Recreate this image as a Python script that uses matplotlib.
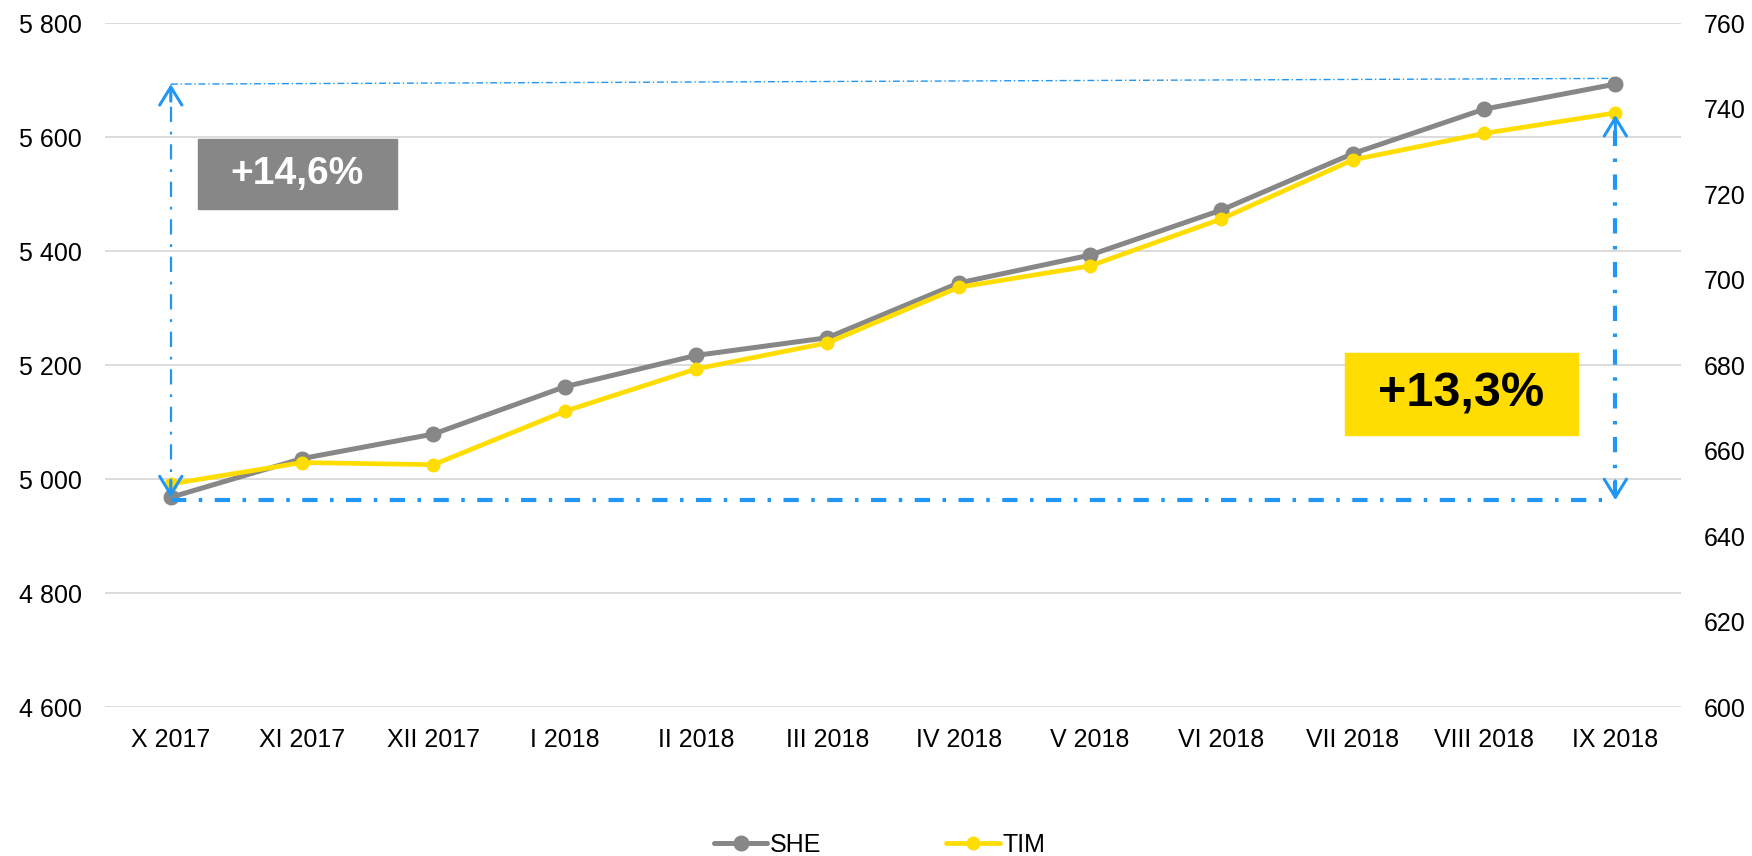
import matplotlib
matplotlib.use("Agg")
import matplotlib.pyplot as plt
from matplotlib.ticker import FuncFormatter, MultipleLocator

# data
months = ["X 2017", "XI 2017", "XII 2017", "I 2018", "II 2018", "III 2018",
          "IV 2018", "V 2018", "VI 2018", "VII 2018", "VIII 2018", "IX 2018"]
she = [4968, 5036, 5079, 5162, 5217, 5248, 5344, 5393, 5472, 5571, 5649, 5693]
tim = [652.2, 657.2, 656.7, 669.2, 679.1, 685.2, 698.2, 703.2, 714.2, 728.0, 734.2, 739.0]
she_label = "+14,6%"
tim_label = "+13,3%"

GRAY = "#878787"
YELLOW = "#FFDD00"
BLUE = "#2196F3"

plt.rcParams["font.family"] = ["Liberation Sans", "DejaVu Sans"]
plt.rcParams["lines.scale_dashes"] = False

fig = plt.figure(figsize=(17.52, 8.56), dpi=100)
ax = fig.add_axes([0.06, 0.174, 0.8995, 0.799])
ax2 = ax.twinx()

x = list(range(len(months)))
ax.plot(x, she, color=GRAY, lw=3.6, marker="o", ms=10.5, label="SHE",
        solid_capstyle="round", zorder=3)
ax2.plot(x, tim, color=YELLOW, lw=3.4, marker="o", ms=9, label="TIM",
         solid_capstyle="round", zorder=3)

ax.set_xlim(-0.5, len(months) - 0.5)
ax.set_ylim(4600, 5800)
ax2.set_ylim(600, 760)
ax.yaxis.set_major_locator(MultipleLocator(200))
ax2.yaxis.set_major_locator(MultipleLocator(20))
ax.yaxis.set_major_formatter(FuncFormatter(lambda v, p: f"{int(v):,}".replace(",", " ")))
ax.set_xticks(x)
ax.set_xticklabels(months)

ax.grid(axis="y", color="#D9D9D9", lw=1.3)
ax.set_axisbelow(True)
for a in (ax, ax2):
    for s in a.spines.values():
        s.set_visible(False)
    a.tick_params(length=0, labelsize=18)
ax.tick_params(axis="y", pad=17)
ax.tick_params(axis="x", pad=15)
ax2.tick_params(axis="y", pad=16)

# annotation lines (drawn on top axes, in the left-axis data space)
tr = ax.transData
top_level = she[-1]
base_level = she[0] - 5
thin = (0, (5, 2, 1, 2))
mid = (0, (11, 7, 2, 7))
thick = (0, (11, 9, 2.5, 9))

ax2.plot([0, x[-1]], [top_level, top_level + 10], transform=tr, color=BLUE,
         lw=1.0, linestyle=thin, zorder=5)
ax2.plot([0, 0], [she[0], top_level], transform=tr, color=BLUE,
         lw=1.6, linestyle=mid, zorder=5)
ax2.plot([0, x[-1] - 0.1], [base_level, base_level], transform=tr, color=BLUE,
         lw=3.0, linestyle=thick, zorder=5)


def head(axis, xy, xytext, coords):
    axis.annotate("", xy=xy, xytext=xytext, xycoords=coords, textcoords=coords,
                  arrowprops=dict(arrowstyle="->,head_length=0.65,head_width=0.4",
                                  color=BLUE, lw=2.2, mutation_scale=20,
                                  shrinkA=0, shrinkB=0),
                  zorder=6)


head(ax2, (0, top_level), (0, top_level - 30), tr)
head(ax2, (0, she[0]), (0, she[0] + 30), tr)

# right vertical arrow, in the right-axis data space
base_r = 600 + (base_level - 4600) / 1200 * 160
ax2.plot([x[-1], x[-1]], [base_r + 1, tim[-1] - 1], color=BLUE, lw=3.0,
         linestyle=thick, zorder=5)
head(ax2, (x[-1], tim[-1] - 0.5), (x[-1], tim[-1] - 5), ax2.transData)
head(ax2, (x[-1], base_r), (x[-1], base_r + 4.5), ax2.transData)

# percentage boxes
fig.patches.append(plt.Rectangle((198 / 1752, 1 - 209 / 856), 199 / 1752, 70 / 856,
                                 transform=fig.transFigure, color=GRAY, zorder=7))
fig.text((198 + 99.5) / 1752, 1 - 174 / 856, she_label, color="white",
         fontsize=28, fontweight="bold", ha="center", va="center", zorder=8)
fig.patches.append(plt.Rectangle((1345 / 1752, 1 - 435 / 856), 233 / 1752, 82 / 856,
                                 transform=fig.transFigure, color=YELLOW, zorder=7))
fig.text((1345 + 116.5) / 1752, 1 - 394 / 856, tim_label, color="black",
         fontsize=35, fontweight="bold", ha="center", va="center", zorder=8)

h1, l1 = ax.get_legend_handles_labels()
h2, l2 = ax2.get_legend_handles_labels()
fig.legend(h1 + h2, l1 + l2, loc="lower center", bbox_to_anchor=(0.502, -0.027),
           ncol=2, frameon=False, fontsize=18, handlelength=2.15,
           handletextpad=0.1, columnspacing=5.0)

fig.savefig("out.png", dpi=100)
